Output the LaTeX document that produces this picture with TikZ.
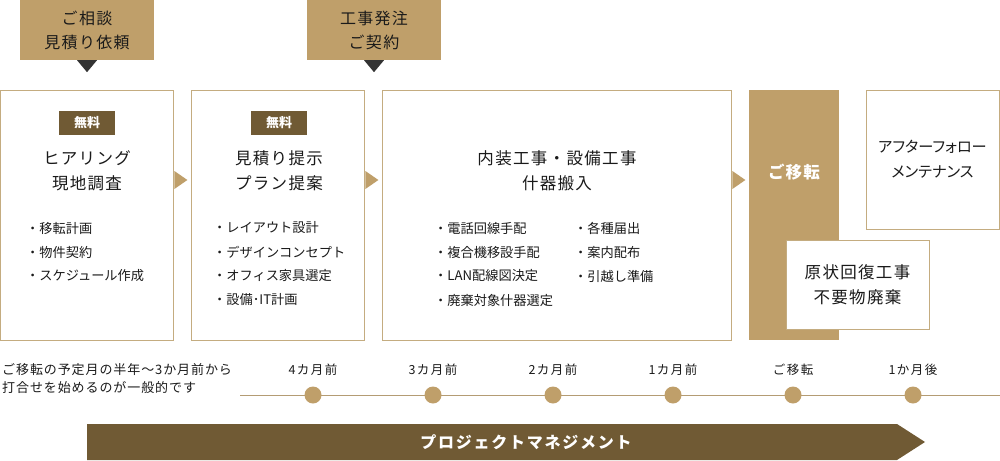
\documentclass[tikz,border=0pt]{standalone}
\usepackage{fontspec}
\setmainfont{Noto Sans CJK JP}
\newfontfamily\jpsA[LetterSpace=8]{Noto Sans CJK JP}
\newfontfamily\jpsB[LetterSpace=12]{Noto Sans CJK JP}
\newfontfamily\jpsC[LetterSpace=7]{Noto Sans CJK JP}
\newfontfamily\jpsD[LetterSpace=11]{Noto Sans CJK JP}
\newfontfamily\jpsP[RawFeature=+palt]{Noto Sans CJK JP}
\usetikzlibrary{calc}
\definecolor{gold}{HTML}{BF9F6A}
\definecolor{dbrown}{HTML}{705A34}
\definecolor{edgec}{HTML}{C4AC80}
\definecolor{ink}{HTML}{1A1A1A}
\definecolor{tric}{HTML}{333333}
\definecolor{linec}{HTML}{B49C74}
\tikzset{
  topbox/.style={fill=gold, minimum width=134pt, minimum height=60pt, inner sep=0pt, align=center, text=ink, font=\jpsA\fontsize{16}{24}\selectfont},
  stagebox/.style={draw=edgec, line width=0.8pt, fill=white, inner sep=0pt},
  freetag/.style={fill=dbrown, text=white, minimum width=56pt, minimum height=24pt, inner sep=0pt, font=\fontsize{13}{13}\selectfont\bfseries},
  ttl/.style={align=center, text=ink, inner sep=0pt, font=\jpsA\fontsize{16.5}{25}\selectfont},
  bul/.style={anchor=west, text=ink, inner sep=0pt, font=\fontsize{13.2}{16}\selectfont},
  tlab/.style={text=ink, inner sep=0pt, font=\jpsB\fontsize{12.5}{15}\selectfont},
  note/.style={anchor=west, text=ink, inner sep=0pt, font=\jpsC\fontsize{13}{16}\selectfont},
  dot/.style={circle, fill=gold, minimum size=17pt, inner sep=0pt},
}
\begin{document}
\begin{tikzpicture}[x=1pt,y=-1pt]
\useasboundingbox (0,0) rectangle (1000,460);
% top boxes
\node[topbox] (t1) at (87,30) {ご相談\\見積り依頼};
\node[topbox] (t2) at (374,30) {工事発注\\ご契約};
\fill[tric] ($(t1.south)+(-10,0)$) -- ($(t1.south)+(10,0)$) -- ($(t1.south)+(0,12)$) -- cycle;
\fill[tric] ($(t2.south)+(-10,0)$) -- ($(t2.south)+(10,0)$) -- ($(t2.south)+(0,12)$) -- cycle;
% stage boxes
\node[stagebox, minimum width=173pt, minimum height=250pt] (b1) at (86.5,215) {};
\node[stagebox, minimum width=173pt, minimum height=250pt] (b2) at (277.5,215) {};
\node[stagebox, minimum width=349pt, minimum height=250pt] (b3) at (556.5,215) {};
\node[fill=gold, minimum width=90pt, minimum height=250pt, inner sep=0pt] (b4) at (794,215) {};
\node[stagebox, minimum width=133pt, minimum height=139pt] (b5) at (932.5,159.5) {};
\node[stagebox, minimum width=143pt, minimum height=89pt] (b6) at (857.5,284.5) {};
% arrowheads
\foreach \n in {b1,b2,b3}{
  \fill[gold] ($(\n.east)+(1,-35-9)$) -- ++(13,9) -- ++(-13,9) -- cycle;
}
% box1 content
\node[freetag] (f1) at (87,123) {無料};
\node[ttl] (h1) at (87,170.5) {ヒアリング\\現地調査};
\node[bul] (a1) at (26,228) {・移転計画};
\node[bul] (a2) at (26,252) {・物件契約};
\node[bul] (a3) at (26,276) {・スケジュール作成};
% box2 content
\node[freetag] (f2) at (279,123) {無料};
\node[ttl] (h2) at (279,170.5) {見積り提示\\プラン提案};
\node[bul] (c1) at (213,228) {・レイアウト設計};
\node[bul] (c2) at (213,252) {・デザインコンセプト};
\node[bul] (c3) at (213,276) {・オフィス家具選定};
\node[bul] (c4) at (213,300) {・設備･IT計画};
% box3 content
\node[ttl] (h3) at (557,171) {内装工事・設備工事\\什器搬入};
\node[bul] (d1) at (434,228) {・電話回線手配};
\node[bul] (d2) at (434,252) {・複合機移設手配};
\node[bul] (d3) at (434,276) {・LAN配線図決定};
\node[bul] (d4) at (434,300) {・廃棄対象什器選定};
\node[bul] (e1) at (574,228) {・各種届出};
\node[bul] (e2) at (574,252) {・案内配布};
\node[bul] (e3) at (574,276) {・引越し準備};
% moving column
\node[text=white, inner sep=0pt, font=\jpsC\fontsize{16.5}{16}\selectfont\bfseries] (mv) at (794,172) {ご移転};
\node[ttl, font=\jpsP\fontsize{15.2}{25}\selectfont] (h5) at (932.5,159.5) {アフターフォロー\\メンテナンス};
\node[ttl] (h6) at (857.5,284.5) {原状回復工事\\不要物廃棄};
% note
\node[note] (n1) at (2,370) {ご移転の予定月の半年～3か月前から};
\node[note] (n2) at (2,388) {打合せを始めるのが一般的です};
% timeline
\coordinate (ls) at (240,395);
\coordinate (le) at (1000,395);
\draw[linec, line width=1pt] (ls) -- (le);
\foreach \x/\lab/\nm in {313/4カ月前/p1, 433/3カ月前/p2, 553/2カ月前/p3, 673/1カ月前/p4, 793/ご移転/p5, 913/1か月後/p6}{
  \node[dot] (\nm) at (\x,395) {};
  \node[tlab] (\nm l) at (\x,370) {\lab};
}
% bottom arrow
\fill[dbrown] (87,424) -- (897,424) -- (925,442) -- (897,460) -- (87,460) -- cycle;
\node[text=white, inner sep=0pt, font=\jpsD\fontsize{16}{16}\selectfont\bfseries] (pm) at (526,442) {プロジェクトマネジメント};
\end{tikzpicture}
\end{document}
